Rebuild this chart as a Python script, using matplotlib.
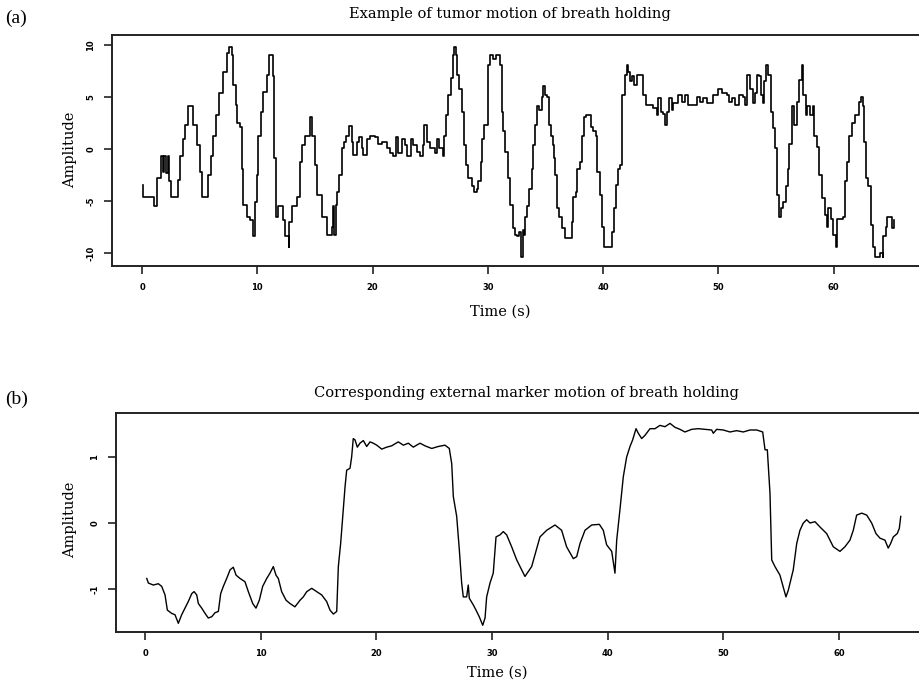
import numpy as np
import matplotlib
matplotlib.use("Agg")
import matplotlib.pyplot as plt

# (a) tumour motion
tumor_t = [0.11, 0.11, 0.98, 1.04, 1.33, 1.62, 1.80, 1.91, 2.08, 2.25, 2.37, 2.49, 2.95, 3.15, 3.30,
           3.53, 3.73, 4.02, 4.31, 4.45, 4.74, 5.03, 5.18, 5.55, 5.75, 5.96, 6.18, 6.42, 6.70, 7.00,
           7.35, 7.57, 7.78, 7.92, 8.15, 8.27, 8.50, 8.65, 8.79, 9.08, 9.37, 9.65, 9.80, 9.95, 10.09,
           10.29, 10.52, 10.82, 11.04, 11.25, 11.39, 11.45, 11.60, 11.82, 12.20, 12.40, 12.72, 12.78,
           12.98, 13.33, 13.42, 13.70, 13.85, 14.14, 14.57, 14.72, 15.00, 15.15, 15.59, 16.02, 16.24,
           16.45, 16.54, 16.65, 16.83, 16.94, 17.11, 17.32, 17.52, 17.69, 17.98, 18.19, 18.33, 18.62,
           18.85, 19.05, 19.19, 19.49, 19.77, 20.21, 20.49, 20.79, 21.22, 21.51, 21.80, 22.03, 22.23,
           22.52, 22.81, 23.01, 23.30, 23.53, 23.82, 24.11, 24.35, 24.48, 24.69, 24.98, 25.41, 25.56,
           25.79, 26.08, 26.19, 26.37, 26.57, 26.77, 26.95, 27.09, 27.23, 27.35, 27.52, 27.73, 27.93,
           28.10, 28.30, 28.60, 28.79, 29.03, 29.17, 29.38, 29.51, 29.66, 29.90, 30.03, 30.18, 30.42,
           30.70, 31.05, 31.20, 31.34, 31.48, 31.77, 31.92, 32.15, 32.35, 32.55, 32.72, 32.84, 33.02,
           33.13, 33.22, 33.42, 33.59, 33.80, 33.94, 34.09, 34.28, 34.46, 34.67, 34.75, 34.95, 35.15,
           35.33, 35.45, 35.62, 35.73, 35.85, 35.97, 36.19, 36.40, 36.69, 37.12, 37.27, 37.41, 37.64,
           37.75, 37.99, 38.14, 38.33, 38.51, 38.79, 38.92, 39.14, 39.38, 39.49, 39.72, 39.87, 40.07,
           40.59, 40.74, 40.94, 41.11, 41.31, 41.46, 41.60, 41.89, 42.04, 42.18, 42.32, 42.50, 42.67,
           42.91, 43.34, 43.48, 43.71, 44.35, 44.64, 44.78, 44.99, 45.21, 45.39, 45.56, 45.73, 45.94,
           46.08, 46.51, 46.81, 47.09, 47.38, 47.81, 48.11, 48.40, 48.68, 48.98, 49.55, 49.98, 50.28,
           50.71, 50.94, 51.15, 51.43, 51.80, 52.15, 52.30, 52.50, 52.73, 52.97, 53.17, 53.31, 53.54,
           53.66, 53.83, 53.95, 54.12, 54.32, 54.53, 54.75, 54.90, 55.10, 55.25, 55.39, 55.62, 55.85,
           56.00, 56.14, 56.35, 56.55, 56.78, 57.01, 57.22, 57.36, 57.59, 57.70, 57.94, 58.17, 58.28,
           58.52, 58.74, 58.95, 59.24, 59.38, 59.52, 59.73, 59.91, 60.19, 60.30, 60.82, 60.97, 61.17,
           61.34, 61.55, 61.84, 62.21, 62.33, 62.56, 62.62, 62.79, 62.99, 63.20, 63.43, 63.57, 64.01,
           64.24, 64.29, 64.50, 64.64, 64.93, 65.07, 65.22]
tumor_amp = [-3.5, -4.6, -4.6, -5.5, -2.8, -0.7, -2.2, -0.7, -2.3, -0.7, -3.1, -4.6, -4.6, -3.0, -0.7,
             1.0, 2.3, 4.1, 4.1, 2.3, 0.4, -2.2, -4.6, -4.6, -2.5, -0.7, 1.3, 3.3, 5.4, 7.4,
             9.2, 9.8, 9.0, 6.2, 4.2, 2.5, 2.1, -1.9, -5.4, -6.5, -6.8, -8.4, -5.1, -2.5, 1.3,
             3.6, 5.5, 7.1, 9.0, 9.0, 7.0, -0.9, -6.5, -5.5, -6.8, -8.4, -9.4, -7.0,
             -5.5, -5.5, -4.6, -1.2, 0.4, 1.3, 3.1, 1.3, -1.5, -4.4, -6.5, -8.3, -8.3,
             -7.5, -5.5, -8.3, -5.4, -4.1, -2.5, 0.1, 0.7, 1.3, 2.2, 0.7, -0.6, 0.7,
             1.2, 0.1, -0.6, 1.0, 1.3, 1.2, 0.5, 0.7, 0.1, -0.4, -0.7, 1.2, -0.4,
             1.0, 0.4, -0.7, 1.0, 0.4, -0.3, -0.7, 0.4, 2.3, 0.7, 0.1, -0.4, 1.0,
             0.1, -0.7, 1.3, 3.3, 5.2, 6.8, 9.0, 9.8, 9.0, 7.1, 5.8, 3.6, 0.4,
             -1.5, -2.8, -3.6, -4.1, -3.8, -3.1, -1.2, 1.0, 2.3, 2.3, 8.1, 9.0, 8.7,
             9.0, 8.1, 3.6, 1.7, -0.3, -2.8, -5.4, -7.6, -8.3, -8.4, -8.0, -10.4, -7.8,
             -8.3, -6.5, -5.5, -3.8, -1.9, 0.4, 2.3, 4.1, 3.8, 5.0, 6.1, 5.2, 5.0,
             2.3, 1.3, 0.4, -0.9, -2.5, -5.7, -6.5, -7.6, -8.6, -8.6, -7.0, -4.6, -4.1,
             -1.9, -1.2, 1.3, 3.1, 3.3, 3.3, 2.1, 1.7, 1.3, -2.2, -4.4, -7.5, -9.4,
             -9.4, -8.0, -5.7, -3.5, -1.9, -1.5, 5.2, 7.1, 8.1, 7.4, 6.5, 7.0, 6.2,
             7.1, 7.1, 5.2, 4.2, 3.9, 3.3, 4.9, 3.6, 3.4, 2.3, 3.6, 4.9, 3.8,
             4.4, 5.2, 4.5, 5.2, 4.2, 4.2, 5.0, 4.5, 4.9, 4.4, 5.2, 5.8, 5.4,
             5.2, 4.5, 4.9, 4.2, 5.2, 5.0, 4.2, 7.1, 5.8, 4.4, 5.4, 7.1, 7.0,
             5.2, 4.4, 6.5, 8.1, 7.1, 3.6, 2.0, 0.1, -4.4, -6.5, -5.7, -5.1, -3.6,
             -1.9, 0.5, 4.1, 2.3, 4.5, 6.6, 8.1, 5.2, 3.3, 4.1, 3.3, 4.1, 1.3,
             0.2, -2.5, -4.7, -6.3, -7.5, -5.7, -6.7, -8.3, -9.4, -6.7, -6.5, -3.1, -1.2,
             1.3, 2.5, 3.3, 4.5, 5.0, 4.1, 0.7, -2.8, -3.6, -7.3, -9.4, -10.4, -10.0,
             -10.4, -8.4, -7.5, -6.5, -6.5, -7.6, -6.8]

# (b) external marker motion
marker_t = [0.15, 0.29, 0.72, 1.15, 1.44, 1.73, 1.93, 2.31, 2.59, 2.88, 3.17, 3.46, 3.74, 4.04, 4.24,
            4.47, 4.61, 4.90, 5.19, 5.47, 5.77, 6.05, 6.34, 6.54, 6.77, 7.06, 7.35, 7.63, 7.87, 8.21,
            8.64, 8.93, 9.31, 9.59, 9.88, 10.17, 10.52, 10.80, 11.09, 11.32, 11.52, 11.81, 12.19, 12.53,
            12.96, 13.40, 13.68, 13.98, 14.41, 14.84, 15.27, 15.70, 15.99, 16.28, 16.57, 16.71, 16.91,
            17.09, 17.29, 17.43, 17.72, 17.86, 18.00, 18.15, 18.35, 18.58, 18.87, 19.16, 19.45, 19.73,
            20.03, 20.46, 20.89, 21.32, 21.89, 22.33, 22.76, 23.19, 23.77, 24.20, 24.78, 25.35, 25.93,
            26.30, 26.51, 26.65, 26.94, 27.17, 27.37, 27.51, 27.80, 27.94, 28.03, 28.37, 28.61, 28.89,
            29.19, 29.39, 29.53, 29.82, 30.10, 30.34, 30.68, 30.97, 31.26, 31.69, 32.13, 32.84, 33.42,
            34.14, 34.72, 35.44, 36.01, 36.44, 37.02, 37.31, 37.60, 38.03, 38.61, 39.27, 39.61, 39.90,
            40.34, 40.62, 40.77, 41.05, 41.34, 41.63, 41.92, 42.15, 42.44, 42.64, 42.93, 43.22, 43.65,
            44.08, 44.51, 44.94, 45.38, 45.81, 46.24, 46.67, 47.25, 47.82, 48.40, 48.98, 49.12, 49.41,
            49.98, 50.56, 51.14, 51.71, 52.29, 52.87, 53.39, 53.59, 53.79, 54.02, 54.17, 54.45, 54.88,
            55.40, 55.60, 56.03, 56.33, 56.61, 56.90, 57.19, 57.48, 57.91, 58.34, 58.92, 59.49, 60.07,
            60.50, 60.93, 61.22, 61.51, 61.95, 62.38, 62.81, 63.18, 63.53, 63.96, 64.24, 64.45, 64.68,
            65.02, 65.20, 65.32]
marker_amp = [-0.84, -0.91, -0.94, -0.92, -0.96, -1.09, -1.32, -1.37, -1.39, -1.52, -1.39, -1.29, -1.19, -1.07, -1.04,
              -1.09, -1.22, -1.29, -1.37, -1.44, -1.42, -1.36, -1.34, -1.07, -0.96, -0.84, -0.71, -0.67, -0.79, -0.84,
              -0.89, -1.04, -1.22, -1.29, -1.17, -0.96, -0.84, -0.76, -0.66, -0.79, -0.84, -1.04, -1.17, -1.22,
              -1.27, -1.17, -1.12, -1.04, -0.99, -1.04, -1.09, -1.19, -1.32, -1.38, -1.34, -0.66, -0.31,
              0.10, 0.55, 0.80, 0.83, 1.00, 1.28, 1.26, 1.15, 1.21, 1.25, 1.16, 1.23, 1.21,
              1.18, 1.12, 1.15, 1.17, 1.23, 1.18, 1.21, 1.15, 1.21, 1.17, 1.13, 1.16, 1.18,
              1.13, 0.90, 0.40, 0.10, -0.41, -0.91, -1.12, -1.12, -0.94, -1.14, -1.24, -1.32, -1.42,
              -1.55, -1.44, -1.12, -0.91, -0.76, -0.21, -0.18, -0.13, -0.18, -0.36, -0.56, -0.81, -0.66,
              -0.21, -0.11, -0.03, -0.11, -0.36, -0.54, -0.51, -0.31, -0.11, -0.03, -0.02, -0.11, -0.33,
              -0.43, -0.76, -0.26, 0.20, 0.70, 1.00, 1.16, 1.26, 1.43, 1.36, 1.28, 1.33, 1.43,
              1.43, 1.48, 1.46, 1.51, 1.45, 1.42, 1.38, 1.42, 1.43, 1.42, 1.41, 1.36, 1.42,
              1.41, 1.38, 1.40, 1.38, 1.41, 1.41, 1.38, 1.11, 1.11, 0.45, -0.56, -0.66, -0.79,
              -1.12, -1.02, -0.71, -0.31, -0.11, 0.00, 0.05, 0.00, 0.02, -0.06, -0.16, -0.36, -0.43,
              -0.36, -0.26, -0.11, 0.12, 0.15, 0.12, 0.00, -0.16, -0.23, -0.26, -0.38, -0.31, -0.21,
              -0.16, -0.08, 0.10]

x_ticks = [0, 10, 20, 30, 40, 50, 60]
tumor_yticks = [-10, -5, 0, 5, 10]
marker_yticks = [-1, 0, 1]

title_a = "Example of tumor motion of breath holding"
title_b = "Corresponding external marker motion of breath holding"

serif = "DejaVu Serif"
tick_font = dict(family="DejaVu Sans", weight="bold", size=6)

fig = plt.figure(figsize=(9.19, 6.86), dpi=100)
ax_a = fig.add_axes([0.1219, 0.6122, 0.878, 0.3367])
ax_b = fig.add_axes([0.1262, 0.0787, 0.8738, 0.3192])


def style_axes(ax, yticks):
    for side in ("top", "bottom", "left"):
        ax.spines[side].set_linewidth(1.4)
        ax.spines[side].set_color("#222222")
    ax.spines["right"].set_visible(False)
    ax.set_xticks(x_ticks)
    ax.set_xticklabels([str(v) for v in x_ticks], fontdict=tick_font)
    ax.set_yticks(yticks)
    ax.set_yticklabels([str(v) for v in yticks], fontdict=tick_font, rotation=90, va="center")
    ax.tick_params(length=6, width=1.2, color="#222222", pad=6)


# the tumour trace is quantised, so draw it as a staircase
ax_a.plot(tumor_t, tumor_amp, color="black", lw=1.2, drawstyle="steps-post")
ax_a.set_xlim(-2.6, 67.39)
ax_a.set_ylim(-11.25, 10.96)
style_axes(ax_a, tumor_yticks)

ax_b.plot(marker_t, marker_amp, color="black", lw=1.0)
ax_b.set_xlim(-2.51, 66.9)
ax_b.set_ylim(-1.652, 1.667)
style_axes(ax_b, marker_yticks)

# titles, panel letters and axis labels
fig.text(510 / 919, 1 - 14 / 686, title_a, family=serif, size=10.5, ha="center", va="center")
fig.text(526 / 919, 1 - 393 / 686, title_b, family=serif, size=10.5, ha="center", va="center")
fig.text(5 / 919, 1 - 18 / 686, "(a)", family="Liberation Serif", size=14, ha="left", va="center")
fig.text(5 / 919, 1 - 399 / 686, "(b)", family="Liberation Serif", size=14, ha="left", va="center")
fig.text(500 / 919, 1 - 312 / 686, "Time (s)", family=serif, size=10.5, ha="center", va="center")
fig.text(497 / 919, 1 - 673 / 686, "Time (s)", family=serif, size=10.5, ha="center", va="center")
fig.text(70 / 919, 1 - 150 / 686, "Amplitude", family=serif, size=10.5, rotation=90,
         ha="center", va="center")
fig.text(70 / 919, 1 - 520 / 686, "Amplitude", family=serif, size=10.5, rotation=90,
         ha="center", va="center")

fig.savefig("out.png", dpi=100)
